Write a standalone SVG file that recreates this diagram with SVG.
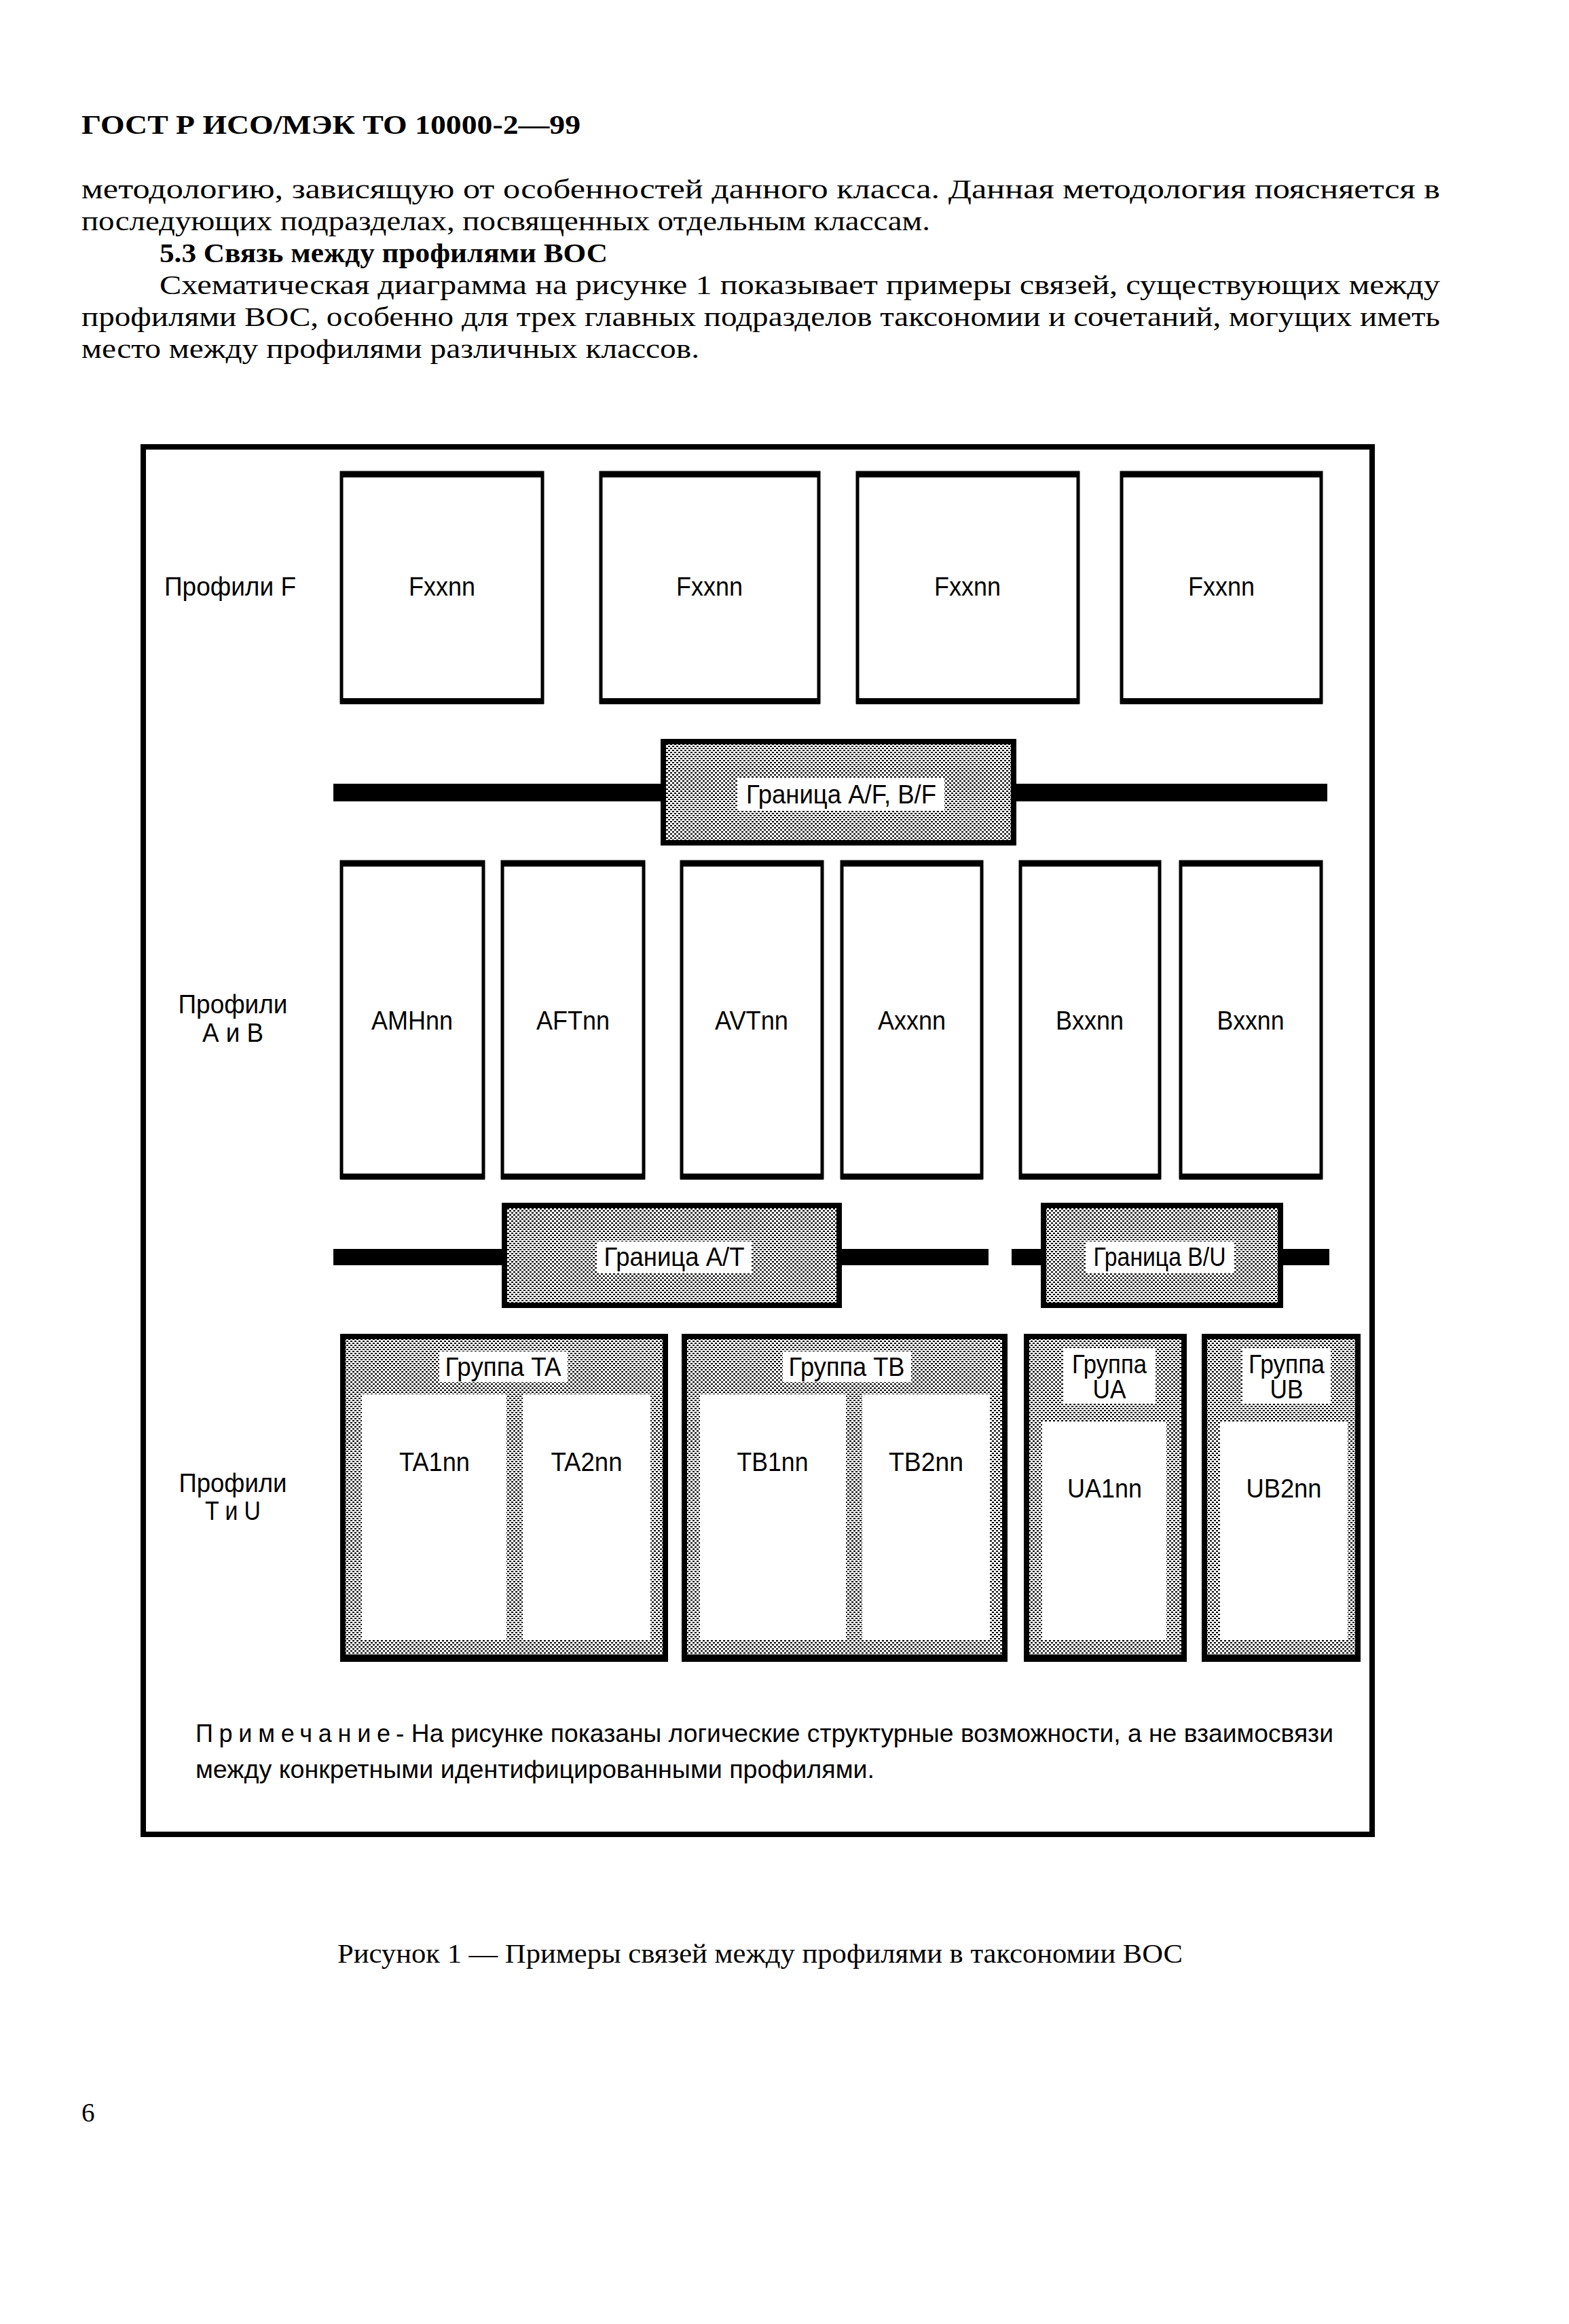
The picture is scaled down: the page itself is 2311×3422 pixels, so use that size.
<svg xmlns="http://www.w3.org/2000/svg" width="2311" height="3422" viewBox="0 0 2311 3422">
<defs>
<pattern id="ht" width="6" height="6" patternUnits="userSpaceOnUse">
<rect width="6" height="6" fill="#fff"/>
<rect x="0" y="0" width="3" height="2" fill="#000"/>
<rect x="3" y="3" width="3" height="2" fill="#000"/>
</pattern>
<style>
.body{font-family:"Liberation Serif","Times New Roman",serif;font-size:39px;fill:#000}
.bold{font-weight:bold}
.lbl{font-family:"Liberation Sans",Arial,sans-serif;font-size:38px;fill:#000;text-anchor:middle}
.note{font-family:"Liberation Sans",Arial,sans-serif;font-size:36px;fill:#000}
.pf{fill:#fff;stroke:#000;stroke-width:5}
.edge{fill:#000}
.bnd{fill:url(#ht);stroke:#000;stroke-width:8}
.grp{fill:url(#ht);stroke:#000;stroke-width:8}
.wbg{fill:#fff}
.inner{fill:#fff}
.bar{fill:#000}
.frame{fill:none;stroke:#000;stroke-width:8}
</style>
</defs>
<rect width="2311" height="3422" fill="#fff"/>

<!-- page text -->
<g id="page-text">
<text class="body bold" x="120" y="197" font-size="40" textLength="735" lengthAdjust="spacingAndGlyphs">ГОСТ Р ИСО/МЭК ТО 10000-2—99</text>
<text class="body" x="120" y="292" textLength="2001" lengthAdjust="spacingAndGlyphs">методологию, зависящую от особенностей данного класса. Данная методология поясняется в</text>
<text class="body" x="120" y="339" textLength="1250" lengthAdjust="spacingAndGlyphs">последующих подразделах, посвященных отдельным классам.</text>
<text class="body bold" x="235" y="386" textLength="660" lengthAdjust="spacingAndGlyphs">5.3 Связь между профилями ВОС</text>
<text class="body" x="235" y="433" textLength="1886" lengthAdjust="spacingAndGlyphs">Схематическая диаграмма на рисунке 1 показывает примеры связей, существующих между</text>
<text class="body" x="120" y="480" textLength="2001" lengthAdjust="spacingAndGlyphs">профилями ВОС, особенно для трех главных подразделов таксономии и сочетаний, могущих иметь</text>
<text class="body" x="120" y="527" textLength="910" lengthAdjust="spacingAndGlyphs">место между профилями различных классов.</text>
<text class="body" x="497" y="2890" textLength="1245" lengthAdjust="spacingAndGlyphs">Рисунок 1 — Примеры связей между профилями в таксономии ВОС</text>
<text class="body" x="120" y="3124">6</text>
</g>

<!-- frame -->
<rect id="frame" class="frame" x="211" y="658" width="1810" height="2043"/>

<!-- row labels -->
<g id="row-labels">
<text class="lbl" x="339" y="877" textLength="194" lengthAdjust="spacingAndGlyphs">Профили F</text>
<text class="lbl" x="343" y="1492" textLength="161" lengthAdjust="spacingAndGlyphs">Профили</text>
<text class="lbl" x="343" y="1534" textLength="90" lengthAdjust="spacingAndGlyphs">А и В</text>
<text class="lbl" x="343" y="2197" textLength="159" lengthAdjust="spacingAndGlyphs">Профили</text>
<text class="lbl" x="343" y="2238" textLength="82" lengthAdjust="spacingAndGlyphs">T и U</text>
</g>

<!-- connectors (boundary bars) -->
<g id="connectors">
<rect class="bar" x="491" y="1154" width="1464" height="26"/>
<rect class="bar" x="491" y="1839" width="965" height="24"/>
<rect class="bar" x="1490" y="1839" width="468" height="24"/>
</g>

<!-- F profiles -->
<g id="F1"><rect class="pf" x="503" y="696" width="296" height="338"/><rect class="edge" x="501" y="694" width="300" height="9"/><rect class="edge" x="501" y="1028" width="300" height="9"/><text class="lbl" x="651" y="877" textLength="98" lengthAdjust="spacingAndGlyphs">Fxxnn</text></g>
<g id="F2"><rect class="pf" x="885" y="696" width="321" height="338"/><rect class="edge" x="883" y="694" width="325" height="9"/><rect class="edge" x="883" y="1028" width="325" height="9"/><text class="lbl" x="1045" y="877" textLength="98" lengthAdjust="spacingAndGlyphs">Fxxnn</text></g>
<g id="F3"><rect class="pf" x="1263" y="696" width="325" height="338"/><rect class="edge" x="1261" y="694" width="329" height="9"/><rect class="edge" x="1261" y="1028" width="329" height="9"/><text class="lbl" x="1425" y="877" textLength="98" lengthAdjust="spacingAndGlyphs">Fxxnn</text></g>
<g id="F4"><rect class="pf" x="1652" y="696" width="294" height="338"/><rect class="edge" x="1650" y="694" width="298" height="9"/><rect class="edge" x="1650" y="1028" width="298" height="9"/><text class="lbl" x="1799" y="877" textLength="98" lengthAdjust="spacingAndGlyphs">Fxxnn</text></g>

<!-- boundary A/F, B/F -->
<g id="bnd-AF"><rect class="bnd" x="977" y="1092" width="516" height="149"/><rect class="wbg" x="1086" y="1145" width="305" height="48"/><text class="lbl" x="1239" y="1183" textLength="280" lengthAdjust="spacingAndGlyphs">Граница A/F, B/F</text></g>

<!-- A and B profiles -->
<g id="AMH"><rect class="pf" x="503" y="1269" width="209" height="465"/><rect class="edge" x="501" y="1267" width="213" height="9"/><rect class="edge" x="501" y="1728" width="213" height="9"/><text class="lbl" x="607" y="1516" textLength="120" lengthAdjust="spacingAndGlyphs">AMHnn</text></g>
<g id="AFT"><rect class="pf" x="740" y="1269" width="208" height="465"/><rect class="edge" x="738" y="1267" width="212" height="9"/><rect class="edge" x="738" y="1728" width="212" height="9"/><text class="lbl" x="844" y="1516" textLength="108" lengthAdjust="spacingAndGlyphs">AFTnn</text></g>
<g id="AVT"><rect class="pf" x="1004" y="1269" width="207" height="465"/><rect class="edge" x="1002" y="1267" width="211" height="9"/><rect class="edge" x="1002" y="1728" width="211" height="9"/><text class="lbl" x="1107" y="1516" textLength="108" lengthAdjust="spacingAndGlyphs">AVTnn</text></g>
<g id="Axx"><rect class="pf" x="1240" y="1269" width="206" height="465"/><rect class="edge" x="1238" y="1267" width="210" height="9"/><rect class="edge" x="1238" y="1728" width="210" height="9"/><text class="lbl" x="1343" y="1516" textLength="100" lengthAdjust="spacingAndGlyphs">Axxnn</text></g>
<g id="Bxx1"><rect class="pf" x="1503" y="1269" width="205" height="465"/><rect class="edge" x="1501" y="1267" width="209" height="9"/><rect class="edge" x="1501" y="1728" width="209" height="9"/><text class="lbl" x="1605" y="1516" textLength="100" lengthAdjust="spacingAndGlyphs">Bxxnn</text></g>
<g id="Bxx2"><rect class="pf" x="1739" y="1269" width="207" height="465"/><rect class="edge" x="1737" y="1267" width="211" height="9"/><rect class="edge" x="1737" y="1728" width="211" height="9"/><text class="lbl" x="1842" y="1516" textLength="99" lengthAdjust="spacingAndGlyphs">Bxxnn</text></g>

<!-- boundaries A/T and B/U -->
<g id="bnd-AT"><rect class="bnd" x="743" y="1775" width="493" height="147"/><rect class="wbg" x="879" y="1828" width="228" height="47"/><text class="lbl" x="993" y="1864" textLength="207" lengthAdjust="spacingAndGlyphs">Граница A/T</text></g>
<g id="bnd-BU"><rect class="bnd" x="1537" y="1775" width="349" height="147"/><rect class="wbg" x="1599" y="1828" width="219" height="47"/><text class="lbl" x="1708" y="1864" textLength="195" lengthAdjust="spacingAndGlyphs">Граница B/U</text></g>

<!-- T and U groups -->
<g id="grp-TA">
<rect class="grp" x="505" y="1968" width="475" height="475"/><rect class="edge" x="501" y="2436" width="483" height="11"/>
<rect class="wbg" x="647" y="1990" width="189" height="45"/><text class="lbl" x="741" y="2026" textLength="171" lengthAdjust="spacingAndGlyphs">Группа TA</text>
<g id="TA1"><rect class="inner" x="533" y="2053" width="213" height="361"/><text class="lbl" x="640" y="2166" textLength="104" lengthAdjust="spacingAndGlyphs">TA1nn</text></g>
<g id="TA2"><rect class="inner" x="770" y="2053" width="188" height="361"/><text class="lbl" x="864" y="2166" textLength="105" lengthAdjust="spacingAndGlyphs">TA2nn</text></g>
</g>
<g id="grp-TB">
<rect class="grp" x="1008" y="1968" width="472" height="475"/><rect class="edge" x="1004" y="2436" width="480" height="11"/>
<rect class="wbg" x="1153" y="1990" width="189" height="45"/><text class="lbl" x="1247" y="2026" textLength="171" lengthAdjust="spacingAndGlyphs">Группа TB</text>
<g id="TB1"><rect class="inner" x="1031" y="2053" width="215" height="361"/><text class="lbl" x="1138" y="2166" textLength="105" lengthAdjust="spacingAndGlyphs">TB1nn</text></g>
<g id="TB2"><rect class="inner" x="1270" y="2053" width="188" height="361"/><text class="lbl" x="1364" y="2166" textLength="110" lengthAdjust="spacingAndGlyphs">TB2nn</text></g>
</g>
<g id="grp-UA">
<rect class="grp" x="1512" y="1968" width="232" height="475"/><rect class="edge" x="1508" y="2436" width="240" height="11"/>
<rect class="wbg" x="1566" y="1985" width="136" height="82"/>
<text class="lbl" x="1634" y="2022" textLength="110" lengthAdjust="spacingAndGlyphs">Группа</text>
<text class="lbl" x="1634" y="2059" textLength="49" lengthAdjust="spacingAndGlyphs">UA</text>
<g id="UA1"><rect class="inner" x="1535" y="2093" width="183" height="321"/><text class="lbl" x="1627" y="2205" textLength="110" lengthAdjust="spacingAndGlyphs">UA1nn</text></g>
</g>
<g id="grp-UB">
<rect class="grp" x="1774" y="1968" width="226" height="475"/><rect class="edge" x="1770" y="2436" width="234" height="11"/>
<rect class="wbg" x="1830" y="1985" width="130" height="82"/>
<text class="lbl" x="1895" y="2022" textLength="112" lengthAdjust="spacingAndGlyphs">Группа</text>
<text class="lbl" x="1895" y="2059" textLength="49" lengthAdjust="spacingAndGlyphs">UB</text>
<g id="UB2"><rect class="inner" x="1797" y="2093" width="188" height="321"/><text class="lbl" x="1891" y="2205" textLength="111" lengthAdjust="spacingAndGlyphs">UB2nn</text></g>
</g>

<!-- note -->
<g id="note">
<text class="note" x="288" y="2565" textLength="287" lengthAdjust="spacing">Примечание</text>
<text class="note" x="583" y="2565" textLength="1381" lengthAdjust="spacingAndGlyphs">- На рисунке показаны логические  структурные возможности, а не взаимосвязи</text>
<text class="note" x="288" y="2618" textLength="1000" lengthAdjust="spacingAndGlyphs">между конкретными идентифицированными профилями.</text>
</g>
</svg>
